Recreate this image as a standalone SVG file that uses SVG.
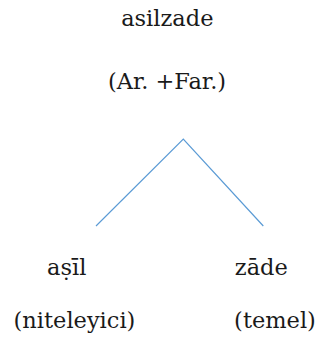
<svg xmlns="http://www.w3.org/2000/svg" width="322" height="351" viewBox="0 0 322 351">
<style>
text{font-family:"DejaVu Serif","Liberation Serif",serif;font-size:22.5px;fill:#1a1a1a;text-anchor:middle}
.c{stroke:#5b9bd5;stroke-width:1.2;fill:none}
</style>
<rect width="322" height="351" fill="#fff"/>
<g id="root"><text x="167.3" y="26">asilzade</text><text x="167" y="89">(Ar. +Far.)</text></g>
<g id="left"><text x="66.7" y="275">aṣīl</text><text x="74.5" y="328">(niteleyici)</text></g>
<g id="right"><text x="261.3" y="275">zāde</text><text x="275" y="328">(temel)</text></g>
<g id="connectors"><polyline class="c" points="96,226 183.3,139 263.3,226"/></g>
</svg>
